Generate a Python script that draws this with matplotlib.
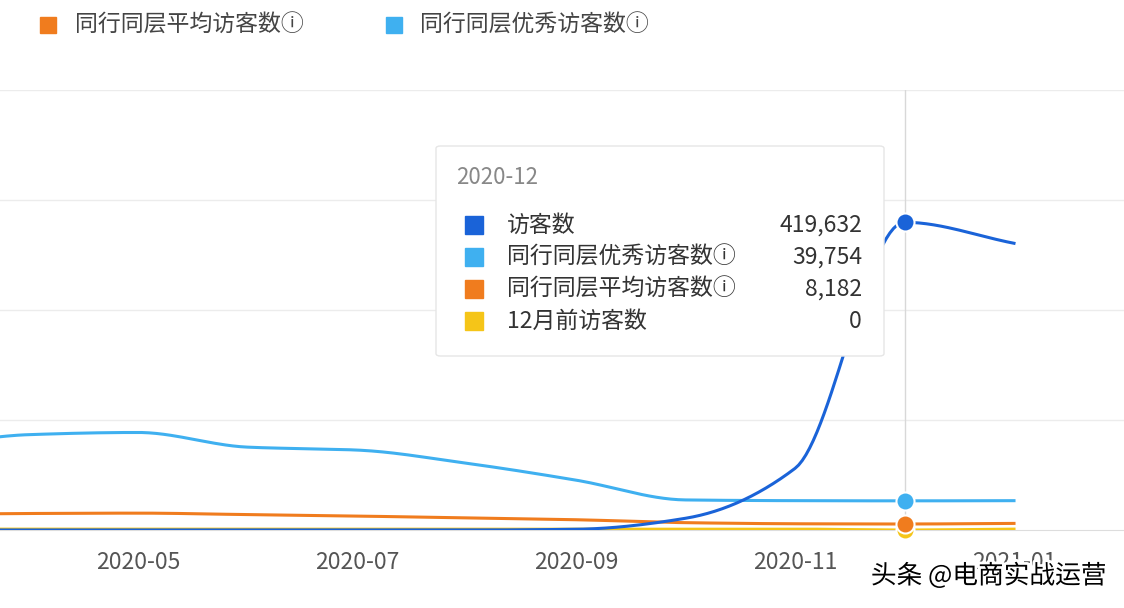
import numpy as np
import matplotlib
matplotlib.use("Agg")
import matplotlib.pyplot as plt
import matplotlib.patheffects as pe
from matplotlib.patches import FancyBboxPatch, Rectangle
from matplotlib import font_manager

names = {f.name for f in font_manager.fontManager.ttflist}
cjk = next((n for n in ["Noto Sans CJK SC", "Noto Sans CJK JP", "Noto Sans SC", "Noto Sans CJK TC"] if n in names), "DejaVu Sans")
plt.rcParams["font.family"] = [cjk, "DejaVu Sans"]

months = ["2020-03", "2020-04", "2020-05", "2020-06", "2020-07", "2020-08",
          "2020-09", "2020-10", "2020-11", "2020-12", "2021-01"]
visitors = [0, 0, 0, 0, 0, 0, 1000, 16000, 84000, 419632, 391000]
excellent = [112000, 130000, 133000, 113000, 109000, 91000, 68000, 41000, 40000, 39754, 40000]
average = [21000, 22500, 23000, 21000, 19000, 16500, 14000, 10000, 8500, 8182, 9000]
before12 = [1200, 1200, 1200, 1200, 1200, 1200, 1200, 1200, 1200, 0, 1200]
tick_labels = ["2020-05", "2020-07", "2020-09", "2020-11", "2021-01"]

W, H = 1124, 608
fig = plt.figure(figsize=(W / 100, H / 100), dpi=100)

C0, SP = 138, 109.5
x0 = (0 - C0) / SP + 2
x1 = (W - C0) / SP + 2
ax = fig.add_axes([0, 78 / H, 1, 440 / H])
ax.set_xlim(x0, x1)
ax.set_ylim(0, 600000)

def smooth(y, n=30):
    y = np.asarray(y, float)
    d = np.diff(y)
    m = np.zeros(len(y))
    for k in range(1, len(y) - 1):
        if d[k - 1] * d[k] > 0:
            m[k] = 2 / (1 / d[k - 1] + 1 / d[k])
    m[0], m[-1] = d[0], d[-1]
    xs, ys = [], []
    for k in range(len(y) - 1):
        t = np.linspace(0, 1, n, endpoint=False)
        h00 = 2 * t**3 - 3 * t**2 + 1; h10 = t**3 - 2 * t**2 + t
        h01 = -2 * t**3 + 3 * t**2; h11 = t**3 - t**2
        xs.append(k + t)
        ys.append(h00 * y[k] + h10 * m[k] + h01 * y[k + 1] + h11 * m[k + 1])
    xs.append([len(y) - 1]); ys.append([y[-1]])
    return np.concatenate(xs), np.concatenate(ys)

for v in [150000, 300000, 450000, 600000]:
    ax.axhline(v, color="#ececec", lw=1, zorder=0)
for s in ["top", "right", "left"]:
    ax.spines[s].set_visible(False)
ax.spines["bottom"].set_color("#dddddd")
ax.set_yticks([])
ax.set_xticks([2, 4, 6, 8, 10])
ax.set_xticklabels(tick_labels, fontsize=16.5, color="#555555")
ax.tick_params(axis="x", length=0, pad=15)

ax.axvline(9, color="#d8d8d8", lw=1, zorder=1)

series = [(before12, "#f5c518"), (average, "#f07c1e"), (excellent, "#3fb0f0"), (visitors, "#1a63d8")]
for y, c in series:
    xs, ys = smooth(y)
    ax.plot(xs, ys, color=c, lw=2.2, zorder=3)
    ax.plot(9, y[9], "o", ms=13, color=c, mec="white", mew=1.5, zorder=5, clip_on=False)

def fx(p): return p / W
def fy(p): return 1 - p / H

q = "ⓘ"
fig.patches.append(Rectangle((fx(40), fy(33)), 16 / W, 16 / H, color="#f07c1e", transform=fig.transFigure))
fig.text(fx(75), fy(25), "同行同层平均访客数" + q, fontsize=16.5, color="#444444", va="center")
fig.patches.append(Rectangle((fx(386), fy(33)), 16 / W, 16 / H, color="#3fb0f0", transform=fig.transFigure))
fig.text(fx(420), fy(25), "同行同层优秀访客数" + q, fontsize=16.5, color="#444444", va="center")

box = FancyBboxPatch((fx(436), fy(356)), 448 / W, 210 / H, boxstyle="round,pad=0,rounding_size=0.004",
                     fc="white", ec="#e6e6e6", lw=1, transform=fig.transFigure, zorder=10)
fig.patches.append(box)
fig.text(fx(456), fy(177), "2020-12", fontsize=16, color="#888888", va="center", zorder=11)
rows = [("访客数", "419,632", "#1a63d8"), ("同行同层优秀访客数" + q, "39,754", "#3fb0f0"),
        ("同行同层平均访客数" + q, "8,182", "#f07c1e"), ("12月前访客数", "0", "#f5c518")]
for k, (lab, val, c) in enumerate(rows):
    yy = 225 + k * 32
    fig.patches.append(Rectangle((fx(465), fy(yy + 9)), 18 / W, 18 / H, color=c,
                                 transform=fig.transFigure, zorder=11))
    fig.text(fx(507), fy(yy), lab, fontsize=16.5, color="#333333", va="center", zorder=11)
    fig.text(fx(862), fy(yy), val, fontsize=16.5, color="#333333", va="center", ha="right", zorder=11)

fig.text(fx(1107), fy(576), "头条 @电商实战运营", fontsize=18.5, color="black", ha="right", va="center",
         path_effects=[pe.withStroke(linewidth=4, foreground="white")], zorder=20)

fig.savefig("out.png", dpi=100)
